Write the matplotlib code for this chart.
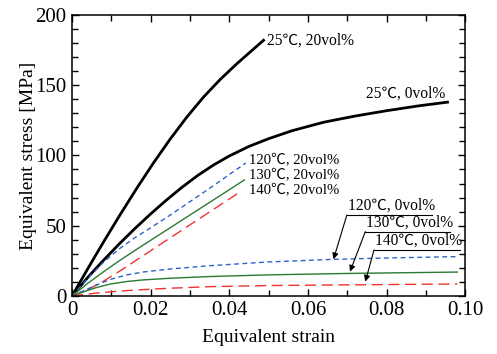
import numpy as np
import matplotlib
matplotlib.use('Agg')
import matplotlib.pyplot as plt
from matplotlib.ticker import MultipleLocator

plt.rcParams['font.family'] = ['Liberation Serif', 'Noto Sans CJK JP', 'DejaVu Serif']

# 25 C, 20 vol%
s25_20 = [0, 0.004, 0.008, 0.0122, 0.0165, 0.0207, 0.0249, 0.0292, 0.0334, 0.0377, 0.0419, 0.0487]
t25_20 = [0, 19.4, 38.4, 57.7, 76.8, 94.6, 111.4, 127.3, 141.4, 154.1, 165.2, 181.9]
# 25 C, 0 vol%
s25_0 = [0, 0.004, 0.008, 0.012, 0.016, 0.020, 0.024, 0.028, 0.032, 0.036, 0.040, 0.045,
         0.050, 0.056, 0.064, 0.072, 0.080, 0.088, 0.0955]
t25_0 = [0, 13.2, 25.4, 37.0, 48.0, 58.4, 68.2, 77.4, 85.8, 93.2, 99.6, 106.4,
         111.9, 117.6, 123.6, 128.0, 131.8, 135.2, 137.9]
# 20 vol% at elevated temperature
s120_20 = [0, 0.004, 0.008, 0.012, 0.016, 0.020, 0.025, 0.030, 0.035, 0.040, 0.0442]
t120_20 = [0, 12.5, 24.0, 33.5, 41.5, 48.5, 57.6, 67.1, 76.6, 86.4, 94.6]
s130_20 = [0, 0.004, 0.008, 0.012, 0.016, 0.020, 0.025, 0.030, 0.035, 0.040, 0.0438]
t130_20 = [0, 9.0, 17.2, 25.0, 32.4, 39.6, 48.6, 57.6, 66.6, 75.6, 82.5]
s140_20 = [0, 0.004, 0.008, 0.012, 0.016, 0.020, 0.025, 0.030, 0.035, 0.040, 0.0426]
t140_20 = [0, 4.5, 10.5, 17.5, 24.8, 32.2, 41.4, 50.6, 59.8, 69.0, 73.8]
# 0 vol% at elevated temperature
s120_0 = [0, 0.002, 0.004, 0.006, 0.008, 0.010, 0.014, 0.018, 0.025, 0.035, 0.050, 0.066, 0.080, 0.098]
t120_0 = [0, 2.5, 5.0, 7.5, 9.8, 12.0, 15.0, 17.0, 19.2, 21.5, 24.2, 26.0, 27.0, 28.0]
s130_0 = [0, 0.002, 0.004, 0.006, 0.008, 0.010, 0.014, 0.018, 0.025, 0.035, 0.050, 0.070, 0.098]
t130_0 = [0, 2.0, 4.0, 5.8, 7.3, 8.6, 10.3, 11.4, 12.6, 13.8, 15.0, 16.0, 17.0]
s140_0 = [0, 0.003, 0.006, 0.010, 0.015, 0.020, 0.025, 0.035, 0.050, 0.075, 0.098]
t140_0 = [0, 1.0, 2.0, 3.0, 4.0, 4.8, 5.5, 6.6, 7.4, 8.0, 8.5]

blue = '#2f62c8'
green = '#2a7a34'
red = '#f03232'

fig = plt.figure(figsize=(4.97, 3.54), dpi=100)
ax = fig.add_axes([0.145, 0.164, 0.791, 0.794])

ax.plot(s25_20, t25_20, color='black', lw=2.0)
ax.plot(s25_0, t25_0, color='black', lw=2.0)
ax.plot(s120_20, t120_20, color=blue, lw=1.0, dashes=(3.5, 2.5))
ax.plot(s130_20, t130_20, color=green, lw=1.0)
ax.plot(s140_20, t140_20, color=red, lw=1.0, dashes=(8, 4))
ax.plot(s120_0, t120_0, color=blue, lw=1.0, dashes=(3.5, 2.5))
ax.plot(s130_0, t130_0, color=green, lw=1.0)
ax.plot(s140_0, t140_0, color=red, lw=1.0, dashes=(8, 4))

ax.set_xlim(0, 0.10)
ax.set_ylim(0, 200)
ax.xaxis.set_minor_locator(MultipleLocator(0.01))
ax.yaxis.set_major_locator(MultipleLocator(50))
ax.yaxis.set_minor_locator(MultipleLocator(10))
ax.set_xticks([0, 0.02, 0.04, 0.06, 0.08, 0.10])
ax.set_xticklabels(['0', '0.02', '0.04', '0.06', '0.08', '0.10'])
ax.tick_params(which='both', direction='in', top=True, right=True, labelsize=15, width=1.0)
ax.tick_params(which='major', length=5, pad=4)
ax.tick_params(which='minor', length=4)
for sp in ax.spines.values():
    sp.set_linewidth(1.1)

ax.set_xlabel('Equivalent strain', fontsize=14, labelpad=6)
ax.set_ylabel('Equivalent stress [MPa]', fontsize=14, labelpad=-1)

fs = 11.2
ax.text(0.0495, 181.5, '25℃, 20vol%', fontsize=fs, va='center', ha='left')
ax.text(0.0949, 144.3, '25℃, 0vol%', fontsize=fs, va='center', ha='right')
fs2 = 10.6
ax.text(0.0451, 96.0, '120℃, 20vol%', fontsize=fs2, va='center', ha='left')
ax.text(0.0451, 85.6, '130℃, 20vol%', fontsize=fs2, va='center', ha='left')
ax.text(0.0451, 75.0, '140℃, 20vol%', fontsize=fs2, va='center', ha='left')

# underlined labels with arrows for the 0 vol% curves
for lab, start, tip, xend in [('120℃, 0vol%', (0.0699, 57.6), (0.0665, 26.1), 0.0915),
                              ('130℃, 0vol%', (0.0746, 45.8), (0.0707, 17.3), 0.0962),
                              ('140℃, 0vol%', (0.0768, 32.7), (0.0746, 10.2), 0.0987)]:
    ax.plot([start[0], xend], [start[1], start[1]], color='black', lw=0.8)
    ax.annotate('', xy=tip, xytext=start,
                arrowprops=dict(arrowstyle='-|>', color='black', lw=0.8,
                                mutation_scale=9, shrinkA=0, shrinkB=0))
    ax.text(start[0] + 0.0002, start[1] + 1.0, lab, fontsize=fs, va='bottom', ha='left')

fig.savefig('out.png', dpi=100)
